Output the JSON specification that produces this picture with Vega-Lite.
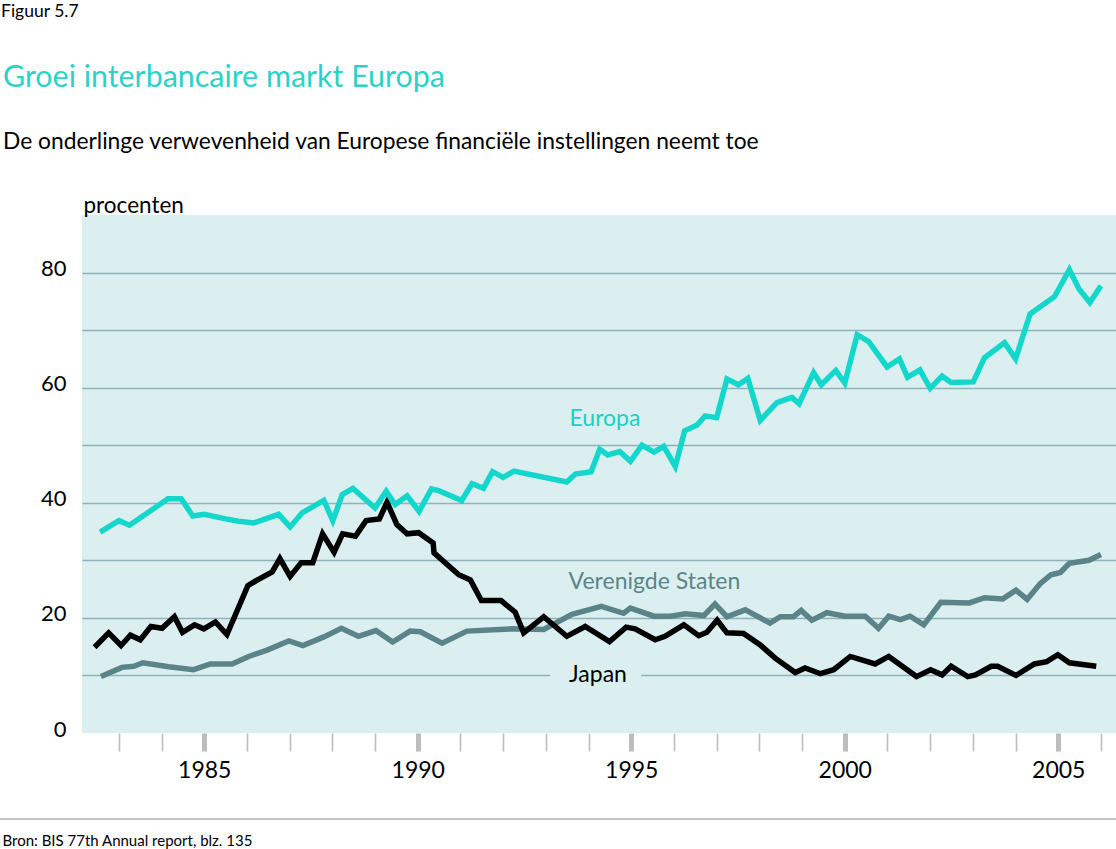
{
  "$schema": "https://vega.github.io/schema/vega-lite/v6.json",
  "autosize": "none",
  "width": 1034,
  "height": 518,
  "padding": {"left": 82, "top": 215, "right": 0, "bottom": 116},
  "background": "#ffffff",
  "config": {
    "view": {"fill": "#dbeff0", "stroke": null},
    "font": "Lato"
  },
  "datasets": {
    "lines": [
      {"series": "Verenigde Staten", "t": 1982.58, "v": 9.8},
      {"series": "Verenigde Staten", "t": 1983.07, "v": 11.4},
      {"series": "Verenigde Staten", "t": 1983.35, "v": 11.6},
      {"series": "Verenigde Staten", "t": 1983.56, "v": 12.2},
      {"series": "Verenigde Staten", "t": 1984.17, "v": 11.5},
      {"series": "Verenigde Staten", "t": 1984.75, "v": 11.0},
      {"series": "Verenigde Staten", "t": 1985.14, "v": 12.0},
      {"series": "Verenigde Staten", "t": 1985.65, "v": 12.0},
      {"series": "Verenigde Staten", "t": 1986.04, "v": 13.3},
      {"series": "Verenigde Staten", "t": 1986.47, "v": 14.4},
      {"series": "Verenigde Staten", "t": 1986.98, "v": 16.0},
      {"series": "Verenigde Staten", "t": 1987.31, "v": 15.2},
      {"series": "Verenigde Staten", "t": 1987.8, "v": 16.7},
      {"series": "Verenigde Staten", "t": 1988.21, "v": 18.2},
      {"series": "Verenigde Staten", "t": 1988.61, "v": 16.8},
      {"series": "Verenigde Staten", "t": 1989.02, "v": 17.8},
      {"series": "Verenigde Staten", "t": 1989.41, "v": 15.8},
      {"series": "Verenigde Staten", "t": 1989.82, "v": 17.7},
      {"series": "Verenigde Staten", "t": 1990.06, "v": 17.6},
      {"series": "Verenigde Staten", "t": 1990.57, "v": 15.6},
      {"series": "Verenigde Staten", "t": 1991.15, "v": 17.7},
      {"series": "Verenigde Staten", "t": 1992.21, "v": 18.1},
      {"series": "Verenigde Staten", "t": 1992.95, "v": 18.0},
      {"series": "Verenigde Staten", "t": 1993.61, "v": 20.6},
      {"series": "Verenigde Staten", "t": 1994.3, "v": 22.0},
      {"series": "Verenigde Staten", "t": 1994.82, "v": 20.8},
      {"series": "Verenigde Staten", "t": 1994.98, "v": 21.7},
      {"series": "Verenigde Staten", "t": 1995.53, "v": 20.3},
      {"series": "Verenigde Staten", "t": 1995.92, "v": 20.3},
      {"series": "Verenigde Staten", "t": 1996.27, "v": 20.7},
      {"series": "Verenigde Staten", "t": 1996.7, "v": 20.4},
      {"series": "Verenigde Staten", "t": 1996.96, "v": 22.4},
      {"series": "Verenigde Staten", "t": 1997.24, "v": 20.2},
      {"series": "Verenigde Staten", "t": 1997.67, "v": 21.4},
      {"series": "Verenigde Staten", "t": 1998.25, "v": 19.1},
      {"series": "Verenigde Staten", "t": 1998.49, "v": 20.2},
      {"series": "Verenigde Staten", "t": 1998.8, "v": 20.2},
      {"series": "Verenigde Staten", "t": 1998.98, "v": 21.3},
      {"series": "Verenigde Staten", "t": 1999.23, "v": 19.6},
      {"series": "Verenigde Staten", "t": 1999.58, "v": 20.9},
      {"series": "Verenigde Staten", "t": 2000.01, "v": 20.3},
      {"series": "Verenigde Staten", "t": 2000.48, "v": 20.3},
      {"series": "Verenigde Staten", "t": 2000.79, "v": 18.2},
      {"series": "Verenigde Staten", "t": 2001.03, "v": 20.3},
      {"series": "Verenigde Staten", "t": 2001.3, "v": 19.7},
      {"series": "Verenigde Staten", "t": 2001.53, "v": 20.3},
      {"series": "Verenigde Staten", "t": 2001.85, "v": 18.8},
      {"series": "Verenigde Staten", "t": 2002.25, "v": 22.7},
      {"series": "Verenigde Staten", "t": 2002.92, "v": 22.6},
      {"series": "Verenigde Staten", "t": 2003.27, "v": 23.5},
      {"series": "Verenigde Staten", "t": 2003.7, "v": 23.3},
      {"series": "Verenigde Staten", "t": 2004.01, "v": 24.8},
      {"series": "Verenigde Staten", "t": 2004.27, "v": 23.2},
      {"series": "Verenigde Staten", "t": 2004.57, "v": 25.9},
      {"series": "Verenigde Staten", "t": 2004.83, "v": 27.5},
      {"series": "Verenigde Staten", "t": 2005.05, "v": 27.9},
      {"series": "Verenigde Staten", "t": 2005.26, "v": 29.5},
      {"series": "Verenigde Staten", "t": 2005.72, "v": 30.0},
      {"series": "Verenigde Staten", "t": 2006.0, "v": 31.0},
      {"series": "Japan", "t": 1982.43, "v": 14.9},
      {"series": "Japan", "t": 1982.76, "v": 17.4},
      {"series": "Japan", "t": 1983.05, "v": 15.2},
      {"series": "Japan", "t": 1983.27, "v": 17.0},
      {"series": "Japan", "t": 1983.5, "v": 16.2},
      {"series": "Japan", "t": 1983.75, "v": 18.5},
      {"series": "Japan", "t": 1984.01, "v": 18.2},
      {"series": "Japan", "t": 1984.3, "v": 20.2},
      {"series": "Japan", "t": 1984.49, "v": 17.5},
      {"series": "Japan", "t": 1984.77, "v": 18.8},
      {"series": "Japan", "t": 1984.99, "v": 18.1},
      {"series": "Japan", "t": 1985.26, "v": 19.3},
      {"series": "Japan", "t": 1985.53, "v": 17.1},
      {"series": "Japan", "t": 1986.02, "v": 25.6},
      {"series": "Japan", "t": 1986.27, "v": 26.7},
      {"series": "Japan", "t": 1986.59, "v": 28.0},
      {"series": "Japan", "t": 1986.77, "v": 30.3},
      {"series": "Japan", "t": 1987.01, "v": 27.2},
      {"series": "Japan", "t": 1987.27, "v": 29.6},
      {"series": "Japan", "t": 1987.54, "v": 29.6},
      {"series": "Japan", "t": 1987.77, "v": 34.6},
      {"series": "Japan", "t": 1988.04, "v": 31.4},
      {"series": "Japan", "t": 1988.24, "v": 34.6},
      {"series": "Japan", "t": 1988.54, "v": 34.2},
      {"series": "Japan", "t": 1988.79, "v": 36.9},
      {"series": "Japan", "t": 1989.1, "v": 37.2},
      {"series": "Japan", "t": 1989.28, "v": 40.1},
      {"series": "Japan", "t": 1989.51, "v": 36.2},
      {"series": "Japan", "t": 1989.75, "v": 34.6},
      {"series": "Japan", "t": 1990.02, "v": 34.8},
      {"series": "Japan", "t": 1990.36, "v": 33.0},
      {"series": "Japan", "t": 1990.38, "v": 31.3},
      {"series": "Japan", "t": 1990.96, "v": 27.5},
      {"series": "Japan", "t": 1991.23, "v": 26.6},
      {"series": "Japan", "t": 1991.49, "v": 23.0},
      {"series": "Japan", "t": 1991.95, "v": 23.0},
      {"series": "Japan", "t": 1992.28, "v": 21.0},
      {"series": "Japan", "t": 1992.48, "v": 17.4},
      {"series": "Japan", "t": 1992.95, "v": 20.2},
      {"series": "Japan", "t": 1993.49, "v": 16.8},
      {"series": "Japan", "t": 1993.92, "v": 18.5},
      {"series": "Japan", "t": 1994.49, "v": 15.9},
      {"series": "Japan", "t": 1994.88, "v": 18.4},
      {"series": "Japan", "t": 1995.09, "v": 18.1},
      {"series": "Japan", "t": 1995.56, "v": 16.2},
      {"series": "Japan", "t": 1995.79, "v": 16.8},
      {"series": "Japan", "t": 1996.23, "v": 18.8},
      {"series": "Japan", "t": 1996.58, "v": 16.9},
      {"series": "Japan", "t": 1996.77, "v": 17.5},
      {"series": "Japan", "t": 1997.01, "v": 19.6},
      {"series": "Japan", "t": 1997.24, "v": 17.4},
      {"series": "Japan", "t": 1997.63, "v": 17.3},
      {"series": "Japan", "t": 1998.02, "v": 15.3},
      {"series": "Japan", "t": 1998.37, "v": 13.0},
      {"series": "Japan", "t": 1998.84, "v": 10.5},
      {"series": "Japan", "t": 1999.07, "v": 11.3},
      {"series": "Japan", "t": 1999.43, "v": 10.3},
      {"series": "Japan", "t": 1999.74, "v": 11.0},
      {"series": "Japan", "t": 2000.13, "v": 13.3},
      {"series": "Japan", "t": 2000.71, "v": 12.0},
      {"series": "Japan", "t": 2001.03, "v": 13.3},
      {"series": "Japan", "t": 2001.68, "v": 9.8},
      {"series": "Japan", "t": 2002.01, "v": 11.0},
      {"series": "Japan", "t": 2002.28, "v": 10.1},
      {"series": "Japan", "t": 2002.49, "v": 11.6},
      {"series": "Japan", "t": 2002.88, "v": 9.8},
      {"series": "Japan", "t": 2003.06, "v": 10.1},
      {"series": "Japan", "t": 2003.43, "v": 11.6},
      {"series": "Japan", "t": 2003.58, "v": 11.6},
      {"series": "Japan", "t": 2004.01, "v": 10.0},
      {"series": "Japan", "t": 2004.44, "v": 12.0},
      {"series": "Japan", "t": 2004.73, "v": 12.4},
      {"series": "Japan", "t": 2004.99, "v": 13.6},
      {"series": "Japan", "t": 2005.26, "v": 12.2},
      {"series": "Japan", "t": 2005.89, "v": 11.6},
      {"series": "Europa", "t": 1982.56, "v": 34.9},
      {"series": "Europa", "t": 1983.0, "v": 36.9},
      {"series": "Europa", "t": 1983.25, "v": 36.1},
      {"series": "Europa", "t": 1984.15, "v": 40.7},
      {"series": "Europa", "t": 1984.46, "v": 40.7},
      {"series": "Europa", "t": 1984.73, "v": 37.7},
      {"series": "Europa", "t": 1985.0, "v": 38.0},
      {"series": "Europa", "t": 1985.5, "v": 37.2},
      {"series": "Europa", "t": 1985.8, "v": 36.8},
      {"series": "Europa", "t": 1986.16, "v": 36.5},
      {"series": "Europa", "t": 1986.74, "v": 38.0},
      {"series": "Europa", "t": 1987.01, "v": 35.8},
      {"series": "Europa", "t": 1987.3, "v": 38.3},
      {"series": "Europa", "t": 1987.8, "v": 40.4},
      {"series": "Europa", "t": 1988.01, "v": 36.9},
      {"series": "Europa", "t": 1988.23, "v": 41.4},
      {"series": "Europa", "t": 1988.48, "v": 42.5},
      {"series": "Europa", "t": 1989.0, "v": 39.1},
      {"series": "Europa", "t": 1989.26, "v": 42.0},
      {"series": "Europa", "t": 1989.47, "v": 39.7},
      {"series": "Europa", "t": 1989.75, "v": 41.2},
      {"series": "Europa", "t": 1990.03, "v": 38.5},
      {"series": "Europa", "t": 1990.32, "v": 42.4},
      {"series": "Europa", "t": 1990.49, "v": 42.1},
      {"series": "Europa", "t": 1991.03, "v": 40.4},
      {"series": "Europa", "t": 1991.27, "v": 43.3},
      {"series": "Europa", "t": 1991.54, "v": 42.5},
      {"series": "Europa", "t": 1991.75, "v": 45.4},
      {"series": "Europa", "t": 1992.0, "v": 44.4},
      {"series": "Europa", "t": 1992.25, "v": 45.5},
      {"series": "Europa", "t": 1993.49, "v": 43.6},
      {"series": "Europa", "t": 1993.69, "v": 45.0},
      {"series": "Europa", "t": 1994.06, "v": 45.4},
      {"series": "Europa", "t": 1994.26, "v": 49.3},
      {"series": "Europa", "t": 1994.45, "v": 48.3},
      {"series": "Europa", "t": 1994.73, "v": 48.9},
      {"series": "Europa", "t": 1994.98, "v": 47.2},
      {"series": "Europa", "t": 1995.25, "v": 50.0},
      {"series": "Europa", "t": 1995.53, "v": 48.8},
      {"series": "Europa", "t": 1995.76, "v": 49.8},
      {"series": "Europa", "t": 1996.03, "v": 46.3},
      {"series": "Europa", "t": 1996.25, "v": 52.5},
      {"series": "Europa", "t": 1996.54, "v": 53.5},
      {"series": "Europa", "t": 1996.73, "v": 55.1},
      {"series": "Europa", "t": 1997.0, "v": 54.8},
      {"series": "Europa", "t": 1997.24, "v": 61.5},
      {"series": "Europa", "t": 1997.51, "v": 60.5},
      {"series": "Europa", "t": 1997.73, "v": 61.6},
      {"series": "Europa", "t": 1998.02, "v": 54.3},
      {"series": "Europa", "t": 1998.41, "v": 57.4},
      {"series": "Europa", "t": 1998.76, "v": 58.3},
      {"series": "Europa", "t": 1998.93, "v": 57.2},
      {"series": "Europa", "t": 1999.27, "v": 62.6},
      {"series": "Europa", "t": 1999.45, "v": 60.5},
      {"series": "Europa", "t": 1999.79, "v": 63.0},
      {"series": "Europa", "t": 2000.0, "v": 60.8},
      {"series": "Europa", "t": 2000.29, "v": 69.2},
      {"series": "Europa", "t": 2000.56, "v": 68.0},
      {"series": "Europa", "t": 2000.99, "v": 63.6},
      {"series": "Europa", "t": 2001.28, "v": 65.0},
      {"series": "Europa", "t": 2001.47, "v": 61.8},
      {"series": "Europa", "t": 2001.76, "v": 63.1},
      {"series": "Europa", "t": 2002.0, "v": 59.9},
      {"series": "Europa", "t": 2002.28, "v": 62.0},
      {"series": "Europa", "t": 2002.49, "v": 60.9},
      {"series": "Europa", "t": 2003.01, "v": 61.0},
      {"series": "Europa", "t": 2003.27, "v": 65.2},
      {"series": "Europa", "t": 2003.74, "v": 67.8},
      {"series": "Europa", "t": 2004.0, "v": 65.0},
      {"series": "Europa", "t": 2004.34, "v": 72.8},
      {"series": "Europa", "t": 2004.91, "v": 75.8},
      {"series": "Europa", "t": 2005.26, "v": 80.5},
      {"series": "Europa", "t": 2005.49, "v": 77.1},
      {"series": "Europa", "t": 2005.74, "v": 74.8},
      {"series": "Europa", "t": 2006.0, "v": 77.7}
    ]
  },
  "layer": [
    {
      "data": {"values": [{"label": "gap"}]},
      "mark": {"type": "rect", "color": "#dbeff0"},
      "encoding": {
        "x": {"datum": 1993.1, "type": "quantitative", "scale": {"domain": [1982.136, 2006.352], "nice": false, "zero": false}},
        "x2": {"datum": 1995.23},
        "y": {"datum": 9.6, "type": "quantitative", "scale": {"domain": [0, 90], "nice": false}},
        "y2": {"datum": 10.4}
      }
    },
    {
      "data": {"name": "lines"},
      "mark": {"type": "line", "strokeWidth": 5.5, "strokeJoin": "miter", "strokeCap": "butt"},
      "encoding": {
        "x": {
          "field": "t", "type": "quantitative",
          "scale": {"domain": [1982.136, 2006.352], "nice": false, "zero": false},
          "axis": {
            "values": [1983, 1984, 1985, 1986, 1987, 1988, 1989, 1990, 1991, 1992, 1993, 1994, 1995, 1996, 1997, 1998, 1999, 2000, 2001, 2002, 2003, 2004, 2005, 2006],
            "format": "d",
            "labelExpr": "datum.value % 5 == 0 ? datum.label : ''",
            "labelOverlap": false,
            "labelFlush": false,
            "domain": false,
            "grid": false,
            "ticks": true,
            "tickSize": 18,
            "tickColor": "#bdbdbd",
            "tickWidth": {"condition": {"test": "datum.value % 5 == 0", "value": 5}, "value": 1.6},
            "labelFont": "Lato",
            "labelFontSize": 23,
            "labelColor": "#000000",
            "labelBaseline": "alphabetic",
            "labelPadding": 26,
            "title": "Bron: BIS 77th Annual report, blz. 135",
            "titleFont": "Lato",
            "titleFontSize": 15,
            "titleFontWeight": "normal",
            "titleColor": "#000000",
            "titleAnchor": "start",
            "titleAlign": "left",
            "titleBaseline": "alphabetic",
            "titleX": -80,
            "titleY": 112
          }
        },
        "y": {
          "field": "v", "type": "quantitative",
          "scale": {"domain": [0, 90], "nice": false},
          "axis": {
            "values": [0, 10, 20, 30, 40, 50, 60, 70, 80],
            "labelExpr": "datum.value % 20 == 0 ? datum.label : ''",
            "ticks": false,
            "tickSize": 0,
            "domain": false,
            "grid": true,
            "gridColor": "#8fb2ba",
            "gridWidth": 1.6,
            "gridOpacity": {"condition": {"test": "datum.value == 0", "value": 0}, "value": 1},
            "labelFont": "Lato",
            "labelFontSize": 22,
            "labelColor": "#000000",
            "labelPadding": 16,
            "labelBaseline": "alphabetic",
            "labelOffset": 3,
            "title": "procenten",
            "titleAngle": 0,
            "titleAlign": "left",
            "titleBaseline": "alphabetic",
            "titleX": 1,
            "titleY": -3,
            "titleFont": "Lato",
            "titleFontSize": 22.5,
            "titleFontWeight": "normal",
            "titleColor": "#000000"
          }
        },
        "color": {
          "field": "series", "type": "nominal",
          "scale": {"domain": ["Europa", "Verenigde Staten", "Japan"], "range": ["#14d7cb", "#5b8489", "#000000"]},
          "legend": null
        }
      }
    },
    {
      "data": {"values": [{"label": "Europa"}]},
      "mark": {"type": "text", "font": "Lato", "fontSize": 23, "color": "#14d2c6", "align": "center", "baseline": "alphabetic"},
      "encoding": {"x": {"datum": 1994.384, "type": "quantitative"}, "y": {"datum": 53.3, "type": "quantitative"}, "text": {"field": "label"}}
    },
    {
      "data": {"values": [{"label": "Verenigde Staten"}]},
      "mark": {"type": "text", "font": "Lato", "fontSize": 23, "color": "#5b8489", "align": "center", "baseline": "alphabetic"},
      "encoding": {"x": {"datum": 1995.543, "type": "quantitative"}, "y": {"datum": 24.97, "type": "quantitative"}, "text": {"field": "label"}}
    },
    {
      "data": {"values": [{"label": "Japan"}]},
      "mark": {"type": "text", "font": "Lato", "fontSize": 23, "color": "#000000", "align": "center", "baseline": "alphabetic"},
      "encoding": {"x": {"datum": 1994.22, "type": "quantitative"}, "y": {"datum": 8.86, "type": "quantitative"}, "text": {"field": "label"}}
    },
    {
      "data": {"values": [{"label": "Figuur 5.7"}]},
      "mark": {"type": "text", "font": "Lato", "fontSize": 17.5, "color": "#000000", "align": "left", "baseline": "alphabetic"},
      "encoding": {"x": {"datum": 1980.24, "type": "quantitative"}, "y": {"datum": 124.45, "type": "quantitative"}, "text": {"field": "label"}}
    },
    {
      "data": {"values": [{"label": "Groei interbancaire markt Europa"}]},
      "mark": {"type": "text", "font": "Lato", "fontSize": 30.4, "color": "#2cd2c6", "align": "left", "baseline": "alphabetic"},
      "encoding": {"x": {"datum": 1980.285, "type": "quantitative"}, "y": {"datum": 112.19, "type": "quantitative"}, "text": {"field": "label"}}
    },
    {
      "data": {"values": [{"label": "De onderlinge verwevenheid van Europese financiële instellingen neemt toe"}]},
      "mark": {"type": "text", "font": "Lato", "fontSize": 22.8, "color": "#000000", "align": "left", "baseline": "alphabetic"},
      "encoding": {"x": {"datum": 1980.285, "type": "quantitative"}, "y": {"datum": 101.47, "type": "quantitative"}, "text": {"field": "label"}}
    },
    {
      "data": {"values": [{"label": "top"}, {"label": "bottom"}]},
      "mark": {"type": "rule", "color": "#c4c4c4", "strokeWidth": 2},
      "encoding": {
        "x": {"datum": 1980.216, "type": "quantitative"},
        "x2": {"datum": 2006.352},
        "y": {"condition": {"test": "datum.label == 'top'", "datum": 121.74}, "datum": -14.94, "type": "quantitative"}
      }
    }
  ]
}
